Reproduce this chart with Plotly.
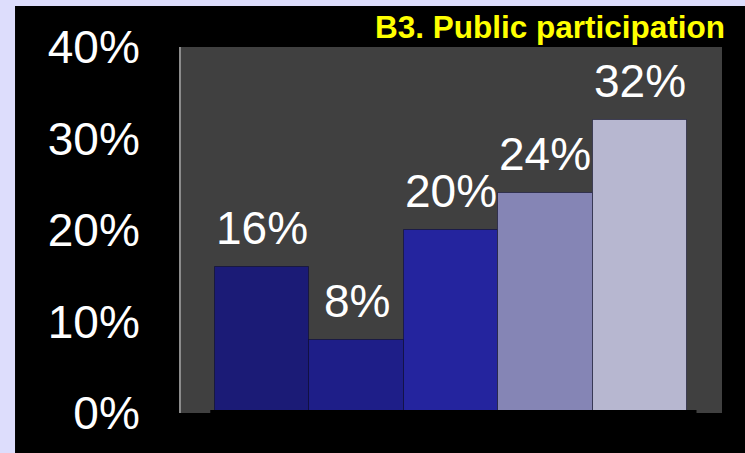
import plotly.graph_objs as go

# data
categories = ["Group A", "Group B", "Group C", "Group D", "Group E"]
values = [16, 8, 20, 24, 32]
labels = ["16%", "8%", "20%", "24%", "32%"]
bar_colors = ["#1B1B76", "#1E1E88", "#24249E", "#8585B5", "#B7B7D0"]
ytick_vals = [0, 10, 20, 30, 40]
ytick_text = ["0%", "10%", "20%", "30%", "40%"]
title_text = "B3. Public participation"

FONT = "Arial, Liberation Sans, sans-serif"
LAVENDER = "#DDDDFC"

fig = go.Figure()

fig.add_trace(go.Bar(
    x=categories,
    y=values,
    marker=dict(color=bar_colors, line=dict(color="rgba(10,10,40,0.55)", width=1)),
    showlegend=False,
    hoverinfo="skip",
))

# value labels above the bars
for cat, val, lab in zip(categories, values, labels):
    fig.add_annotation(
        x=cat, y=val, text=lab, showarrow=False,
        yanchor="bottom", yshift=11,
        font=dict(family=FONT, size=46, color="white"),
    )

# title in the top right corner
fig.add_annotation(
    text="<b>" + title_text + "</b>", showarrow=False,
    xref="paper", yref="paper", x=1.01, y=1.056,
    xanchor="right", yanchor="middle",
    font=dict(family=FONT, size=31.5, color="#FFFF00"),
)

# lavender frame on the left and top, black floor under the bars
fig.add_shape(type="rect", xref="paper", yref="paper", x0=-0.4, x1=-0.3068, y0=-0.2, y1=1.2,
              fillcolor=LAVENDER, line_width=0, layer="below")
fig.add_shape(type="rect", xref="paper", yref="paper", x0=-0.4, x1=1.1, y0=1.112, y1=1.2,
              fillcolor=LAVENDER, line_width=0, layer="below")
fig.add_shape(type="rect", xref="x", yref="y", x0=-0.55, x1=4.6, y0=0, y1=0.33,
              fillcolor="black", line_width=0, layer="above")

fig.update_layout(
    width=745, height=453,
    margin=dict(l=181, r=23, t=47, b=40),
    paper_bgcolor="black",
    plot_bgcolor="#404040",
    bargap=0,
    xaxis=dict(range=[-0.86, 4.87], showticklabels=False, showgrid=False,
               zeroline=False, showline=False, fixedrange=True),
    yaxis=dict(range=[0, 40], tickvals=ytick_vals, ticktext=ytick_text,
               tickfont=dict(family=FONT, size=46, color="white"),
               showgrid=False, zeroline=False, showline=True,
               linecolor="#8C8C8C", linewidth=2, ticks="",
               ticklabelstandoff=30, fixedrange=True),
)

fig.write_html("out.html", config={"displayModeBar": False},
               post_script="document.body.style.margin='0';")
